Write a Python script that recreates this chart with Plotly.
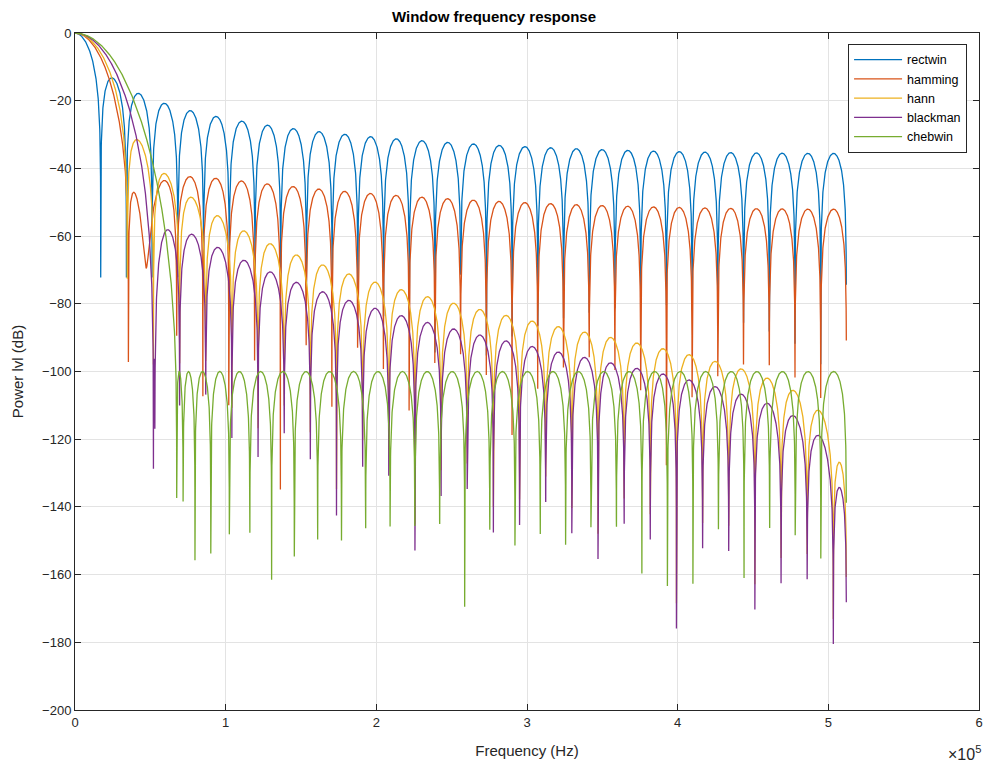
import numpy as np
import plotly.graph_objects as go

# ---- data / parameters ----
window_names = ["rectwin", "hamming", "hann", "blackman", "chebwin"]
window_length = 60          # N (null spacing ~1.71e4 Hz)
sample_rate = 1.024e6       # Hz (curves end near 5.12e5 Hz)
nfft = 16384
cheb_attenuation = 100      # dB (flat chebwin sidelobes at -100 dB)
x_tick_values = [0, 1e5, 2e5, 3e5, 4e5, 5e5, 6e5]
x_tick_labels = ["0", "1", "2", "3", "4", "5", "6"]
y_tick_values = list(range(-200, 1, 20))

line_colors = ["#0072BD", "#D95319", "#EDB120", "#7E2F8E", "#77AC30"]


def chebwin(M, at):
    order = M - 1.0
    beta = np.cosh(1.0 / order * np.arccosh(10 ** (abs(at) / 20.0)))
    k = np.arange(M) * 1.0
    x = beta * np.cos(np.pi * k / M)
    p = np.zeros(x.shape)
    p[x > 1] = np.cosh(order * np.arccosh(x[x > 1]))
    p[x < -1] = (2 * (M % 2) - 1) * np.cosh(order * np.arccosh(-x[x < -1]))
    m = np.abs(x) <= 1
    p[m] = np.cos(order * np.arccos(x[m]))
    if M % 2:
        w = np.real(np.fft.fft(p))
        n = (M + 1) // 2
        w = w[:n]
        w = np.concatenate((w[n - 1:0:-1], w))
    else:
        p = p * np.exp(1j * np.pi / M * np.arange(M))
        w = np.real(np.fft.fft(p))
        n = M // 2 + 1
        w = np.concatenate((w[n - 1:0:-1], w[1:n]))
    return w / np.max(w)


def make_window(name, N):
    n = np.arange(N)
    c = 2 * np.pi * n / (N - 1)
    if name == "rectwin":
        return np.ones(N)
    if name == "hamming":
        return 0.54 - 0.46 * np.cos(c)
    if name == "hann":
        return 0.5 * (1 - np.cos(c))
    if name == "blackman":
        w = 0.42 - 0.5 * np.cos(c) + 0.08 * np.cos(2 * c)
        w[0] = 0.0
        w[-1] = 0.0
        return w
    return chebwin(N, cheb_attenuation)


freqs = np.arange(nfft // 2) * sample_rate / nfft

fig = go.Figure()
for name, col in zip(window_names, line_colors):
    w = make_window(name, window_length)
    spec = np.abs(np.fft.fft(w, nfft))[: nfft // 2]
    db = 20 * np.log10(np.maximum(spec / spec.max(), 1e-300))
    db = np.where(db < -250, np.nan, db)   # exact zeros (-Inf) are not drawn
    fig.add_trace(go.Scatter(x=freqs, y=db, mode="lines", name=name,
                             line=dict(color=col, width=1.3)))

axis_common = dict(
    showline=True, linecolor="#262626", linewidth=1, mirror="ticks",
    ticks="inside", ticklen=6, tickcolor="#262626",
    showgrid=True, gridcolor="#e3e3e3", gridwidth=1, zeroline=False,
    tickfont=dict(family="Liberation Sans, Arial, sans-serif", size=13, color="#262626"),
)

fig.update_xaxes(range=[0, 6e5], tickvals=x_tick_values, ticktext=x_tick_labels,
                 title=dict(text="Frequency (Hz)", font=dict(size=15, color="#262626"), standoff=16),
                 **axis_common)
fig.update_yaxes(range=[-200, 0], tickvals=y_tick_values,
                 title=dict(text="Power lvl (dB)", font=dict(size=15, color="#262626"), standoff=14),
                 **axis_common)

fig.add_annotation(x=1, y=0, xref="paper", yref="paper", xanchor="right", yanchor="top",
                   yshift=-31, xshift=4, showarrow=False,
                   text="×10<sup>5</sup>", font=dict(size=16, color="#262626"))

fig.update_layout(
    width=988, height=765,
    margin=dict(l=75, r=5, t=33, b=55),
    paper_bgcolor="white", plot_bgcolor="white",
    font=dict(family="Liberation Sans, Arial, sans-serif", color="#262626"),
    title=dict(text="<b>Window frequency response</b>", x=0.5, xanchor="center",
               y=1, yanchor="top", pad=dict(t=11), font=dict(size=15, color="#000000")),
    legend=dict(x=0.9868, y=0.9838, xanchor="right", yanchor="top",
                bgcolor="white", bordercolor="#262626", borderwidth=1,
                font=dict(size=12.5, color="#000000"), tracegroupgap=0,
                itemwidth=48),
    showlegend=True,
)

fig.write_html("out.html")
